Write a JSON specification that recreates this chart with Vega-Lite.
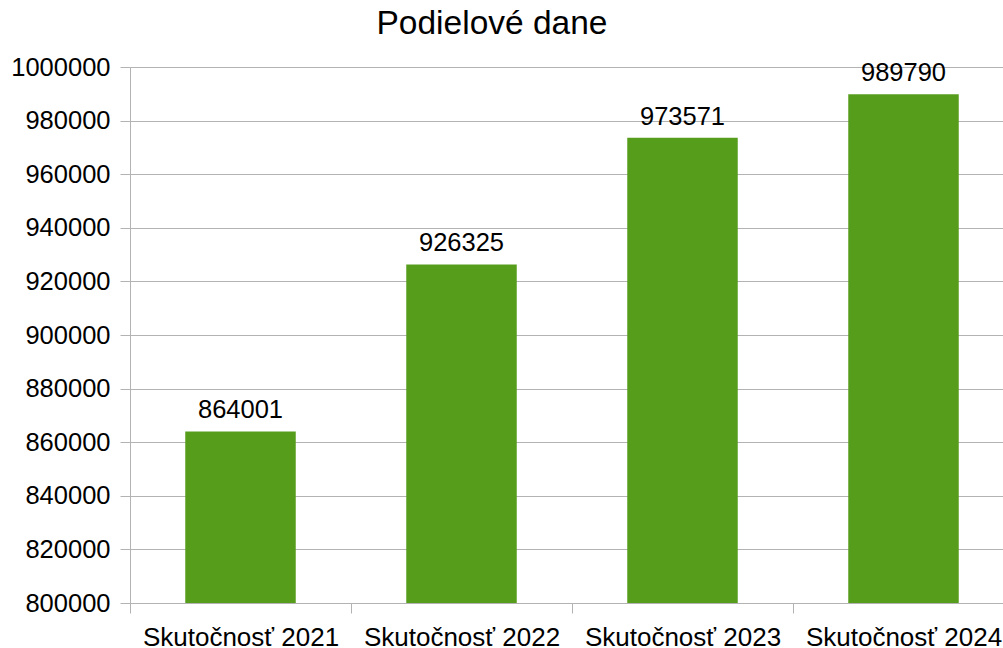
{
  "$schema": "https://vega.github.io/schema/vega-lite/v6.json",
  "width": 884,
  "height": 536,
  "autosize": {"type": "none"},
  "padding": {"left": 130, "top": 67, "right": -11, "bottom": 45},
  "background": "white",
  "title": {
    "text": "Podielové dane",
    "font": "Liberation Sans",
    "fontSize": 33.5,
    "fontWeight": "normal",
    "color": "#000000",
    "anchor": "middle",
    "dx": -80,
    "offset": 14
  },
  "data": {
    "values": [
      {"kategoria": "Skutočnosť 2021", "hodnota": 864001},
      {"kategoria": "Skutočnosť 2022", "hodnota": 926325},
      {"kategoria": "Skutočnosť 2023", "hodnota": 973571},
      {"kategoria": "Skutočnosť 2024", "hodnota": 989790}
    ]
  },
  "config": {
    "view": {"stroke": null},
    "axis": {
      "labelFont": "Liberation Sans",
      "labelColor": "#000000",
      "domainColor": "#b3b3b3",
      "tickColor": "#b3b3b3",
      "gridColor": "#b3b3b3",
      "tickSize": 10,
      "titleFont": "Liberation Sans"
    }
  },
  "encoding": {
    "x": {
      "field": "kategoria",
      "type": "nominal",
      "sort": null,
      "scale": {"paddingInner": 0.5, "paddingOuter": 0.25},
      "axis": {
        "title": null,
        "labelAngle": 0,
        "labelFontSize": 26,
        "labelPadding": 11,
        "labelLimit": 0,
        "tickOffset": -110.5,
        "labelOffset": 110.5,
        "grid": false
      }
    },
    "y": {
      "field": "hodnota",
      "type": "quantitative",
      "scale": {"domain": [800000, 1000000], "nice": false, "zero": false},
      "axis": {
        "title": null,
        "values": [800000, 820000, 840000, 860000, 880000, 900000, 920000, 940000, 960000, 980000, 1000000],
        "format": "d",
        "labelFontSize": 25.5,
        "labelPadding": 10,
        "grid": true
      }
    }
  },
  "layer": [
    {
      "mark": {"type": "bar", "color": "#579d1c"},
      "encoding": {"y2": {"datum": 800000}}
    },
    {
      "mark": {
        "type": "text",
        "font": "Liberation Sans",
        "fontSize": 25.5,
        "color": "#000000",
        "baseline": "alphabetic",
        "dy": -13
      },
      "encoding": {"text": {"field": "hodnota", "type": "quantitative", "format": "d"}}
    }
  ]
}
